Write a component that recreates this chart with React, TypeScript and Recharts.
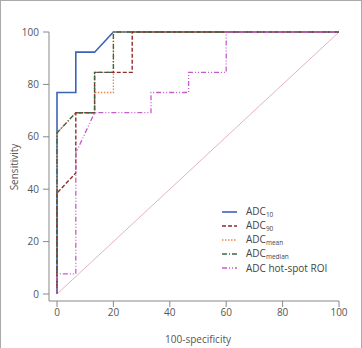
import React from 'react';
import { LineChart, Line, XAxis, YAxis } from 'recharts';

// ROC curves (x = 100-specificity, y = sensitivity)
const adc10X = [0, 0, 6.67, 6.67, 13.33, 20, 100];
const adc10Y = [0, 76.9, 76.9, 92.3, 92.3, 100, 100];

const adc90X = [0, 0, 6.67, 6.67, 13.33, 13.33, 26.67, 26.67, 100];
const adc90Y = [0, 38.5, 46.2, 69.2, 69.2, 84.6, 84.6, 100, 100];

const adcMeanX = [0, 0, 6.67, 13.33, 13.33, 20, 20, 100];
const adcMeanY = [0, 61.5, 69.2, 69.2, 76.9, 76.9, 100, 100];

const adcMedianX = [0, 0, 6.67, 13.33, 13.33, 20, 20, 100];
const adcMedianY = [0, 61.5, 69.2, 69.2, 84.6, 84.6, 100, 100];

const hotSpotX = [0, 0, 6.67, 6.67, 13.33, 33.33, 33.33, 46.67, 46.67, 60, 60, 100];
const hotSpotY = [0, 7.7, 7.7, 53.8, 69.2, 69.2, 76.9, 76.9, 84.6, 84.6, 100, 100];

const refX = [0, 100];
const refY = [0, 100];

const ticks = [0, 20, 40, 60, 80, 100];

const toPoints = (xs: number[], ys: number[]) => xs.map((x, i) => ({ x, y: ys[i] }));

const series = [
  { key: 'adc10', base: 'ADC', sub: '10', data: toPoints(adc10X, adc10Y), color: '#3d63b8', dash: undefined, width: 1.6 },
  { key: 'adcMean', base: 'ADC', sub: 'mean', data: toPoints(adcMeanX, adcMeanY), color: '#f0884c', dash: '1.5 1.5', width: 1.3 },
  { key: 'adc90', base: 'ADC', sub: '90', data: toPoints(adc90X, adc90Y), color: '#8e2b2b', dash: '4 2', width: 1.4 },
  { key: 'adcMedian', base: 'ADC', sub: 'median', data: toPoints(adcMedianX, adcMedianY), color: '#3b6a48', dash: '5 2 1 2', width: 1.4 },
  { key: 'hotSpot', base: 'ADC hot-spot ROI', sub: '', data: toPoints(hotSpotX, hotSpotY), color: '#c45ccc', dash: '5 2 1 2 1 2', width: 1.3 },
];

const legendOrder = ['adc10', 'adc90', 'adcMean', 'adcMedian', 'hotSpot'];

const font = '"Open Sans", "DejaVu Sans", sans-serif';

const LegendBox = () => (
  <div style={{ position: 'absolute', left: 221, top: 204, fontFamily: font, fontSize: 10, color: '#444' }}>
    {legendOrder.map((k) => {
      const s = series.find((d) => d.key === k)!;
      return (
        <div key={k} style={{ display: 'flex', alignItems: 'center', height: 14, lineHeight: '14px' }}>
          <svg width={15} height={6} style={{ marginRight: 9 }}>
            <line x1={0} y1={3} x2={15} y2={3} stroke={s.color} strokeWidth={s.width} strokeDasharray={s.dash} />
          </svg>
          <span style={{ whiteSpace: 'nowrap' }}>
            {s.base}
            {s.sub && <span style={{ fontSize: 6.5, position: 'relative', top: 2 }}>{s.sub}</span>}
          </span>
        </div>
      );
    })}
  </div>
);

const App = () => {
  return (
    <div
      style={{
        position: 'fixed',
        left: 0,
        top: 0,
        width: 362,
        height: 348,
        background: '#fff',
        boxSizing: 'border-box',
        borderLeft: '1px solid #aaa',
        borderRight: '1px solid #aaa',
        borderTop: '1px solid #aaa',
      }}
    >
      <LineChart
        width={360}
        height={347}
        margin={{ top: 31, right: 22, bottom: 7, left: 0 }}
        style={{ fontFamily: font }}
      >
        <XAxis
          type="number"
          dataKey="x"
          domain={[0, 100]}
          ticks={ticks}
          padding={{ left: 8, right: 0 }}
          height={40}
          tickSize={6}
          tickMargin={2}
          stroke="#888"
          tick={{ fill: '#555', fontSize: 10 }}
          allowDuplicatedCategory={false}
          label={{ value: '100-specificity', position: 'insideBottom', offset: -2, dx: 4, fill: '#555', fontSize: 10 }}
        />
        <YAxis
          type="number"
          dataKey="y"
          domain={[0, 100]}
          ticks={ticks}
          padding={{ top: 0, bottom: 7 }}
          width={48}
          tickSize={6}
          tickMargin={4}
          stroke="#888"
          tick={{ fill: '#555', fontSize: 10 }}
          label={() => (
            <text x={13} y={166} transform="rotate(-90 13 166)" textAnchor="middle" dominantBaseline="central" fill="#555" fontSize={10} fontFamily={font}>
              Sensitivity
            </text>
          )}
        />
        <Line
          data={toPoints(refX, refY)}
          dataKey="y"
          stroke="#e2b4c2"
          strokeWidth={1}
          dot={false}
          activeDot={false}
          legendType="none"
          isAnimationActive={false}
        />
        {series.map((s) => (
          <Line
            key={s.key}
            data={s.data}
            dataKey="y"
            name={s.key}
            stroke={s.color}
            strokeWidth={s.width}
            strokeDasharray={s.dash}
            dot={false}
            activeDot={false}
            isAnimationActive={false}
          />
        ))}
      </LineChart>
      <LegendBox />
    </div>
  );
};

export default App;
